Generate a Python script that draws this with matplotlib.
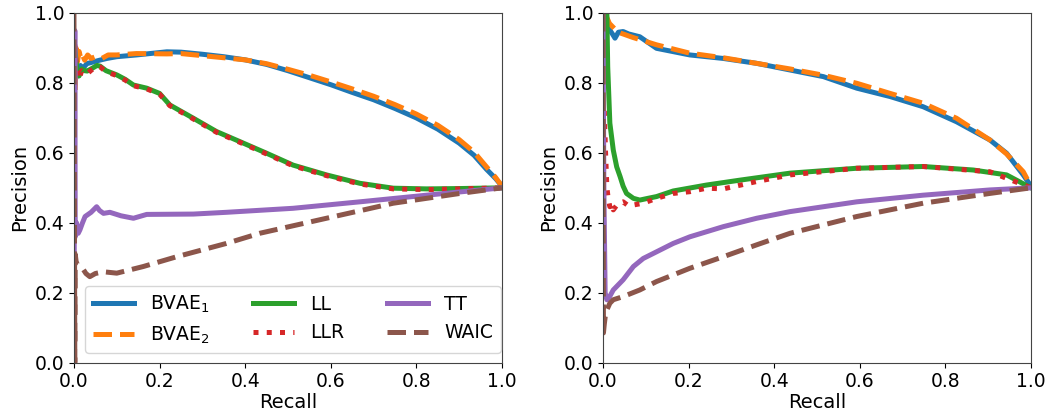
import matplotlib
matplotlib.use("Agg")
import matplotlib.pyplot as plt

# ---------------- Left panel data ----------------
L_bvae1_x = [0.003, 0.006, 0.010, 0.015, 0.020, 0.030, 0.045, 0.060, 0.077, 0.10, 0.146, 0.217, 0.25, 0.30, 0.35, 0.40, 0.45, 0.50, 0.55, 0.60, 0.65, 0.70, 0.75, 0.80, 0.85, 0.90, 0.935, 0.964, 0.985, 1.0]
L_bvae1_y = [0.80, 0.84, 0.82, 0.85, 0.84, 0.855, 0.86, 0.865, 0.87, 0.875, 0.88, 0.889, 0.888, 0.882, 0.875, 0.866, 0.853, 0.835, 0.815, 0.795, 0.773, 0.752, 0.727, 0.70, 0.668, 0.628, 0.593, 0.553, 0.527, 0.505]
L_bvae2_x = [0.003, 0.005, 0.008, 0.012, 0.016, 0.020, 0.025, 0.032, 0.040, 0.050, 0.065, 0.08, 0.10, 0.146, 0.217, 0.25, 0.30, 0.35, 0.40, 0.45, 0.50, 0.55, 0.60, 0.65, 0.70, 0.75, 0.80, 0.85, 0.90, 0.935, 0.964, 0.985, 1.0]
L_bvae2_y = [0.78, 0.90, 0.86, 0.89, 0.87, 0.88, 0.865, 0.88, 0.87, 0.875, 0.87, 0.88, 0.88, 0.884, 0.883, 0.884, 0.878, 0.872, 0.866, 0.855, 0.839, 0.822, 0.803, 0.783, 0.762, 0.738, 0.711, 0.679, 0.638, 0.602, 0.560, 0.530, 0.505]
L_ll_x = [0.002, 0.005, 0.008, 0.012, 0.018, 0.025, 0.031, 0.040, 0.054, 0.061, 0.075, 0.10, 0.12, 0.139, 0.170, 0.20, 0.224, 0.279, 0.333, 0.388, 0.450, 0.512, 0.590, 0.668, 0.746, 0.824, 0.902, 1.0]
L_ll_y = [0.90, 0.86, 0.83, 0.82, 0.84, 0.835, 0.834, 0.84, 0.85, 0.848, 0.835, 0.823, 0.81, 0.794, 0.785, 0.77, 0.737, 0.699, 0.661, 0.632, 0.599, 0.565, 0.537, 0.513, 0.499, 0.497, 0.498, 0.50]
L_llr_x = [0.002, 0.005, 0.008, 0.012, 0.018, 0.025, 0.031, 0.040, 0.054, 0.061, 0.075, 0.10, 0.12, 0.139, 0.170, 0.20, 0.224, 0.279, 0.333, 0.388, 0.450, 0.512, 0.590, 0.668, 0.746, 0.824, 0.902, 1.0]
L_llr_y = [0.91, 0.85, 0.82, 0.81, 0.835, 0.83, 0.826, 0.836, 0.848, 0.846, 0.832, 0.821, 0.808, 0.792, 0.783, 0.768, 0.735, 0.697, 0.659, 0.630, 0.597, 0.563, 0.535, 0.511, 0.497, 0.495, 0.497, 0.50]
L_tt_x = [0.0, 0.002, 0.003, 0.006, 0.010, 0.014, 0.020, 0.026, 0.040, 0.053, 0.060, 0.069, 0.084, 0.11, 0.139, 0.170, 0.279, 0.356, 0.512, 0.668, 0.824, 1.0]
L_tt_y = [0.0, 0.95, 0.36, 0.40, 0.37, 0.38, 0.40, 0.418, 0.43, 0.446, 0.435, 0.427, 0.43, 0.42, 0.413, 0.424, 0.425, 0.43, 0.4415, 0.46, 0.479, 0.50]
L_waic_x = [0.0, 0.002, 0.003, 0.005, 0.008, 0.014, 0.020, 0.028, 0.037, 0.050, 0.069, 0.10, 0.162, 0.24, 0.356, 0.434, 0.59, 0.746, 0.902, 1.0]
L_waic_y = [1.0, 0.0, 0.31, 0.29, 0.28, 0.275, 0.27, 0.255, 0.246, 0.255, 0.26, 0.256, 0.275, 0.303, 0.341, 0.37, 0.413, 0.456, 0.484, 0.50]

# ---------------- Right panel data ----------------
R_bvae1_x = [0.003, 0.005, 0.010, 0.016, 0.022, 0.028, 0.036, 0.047, 0.060, 0.086, 0.125, 0.203, 0.281, 0.359, 0.437, 0.515, 0.593, 0.671, 0.748, 0.826, 0.904, 0.943, 0.982, 1.0]
R_bvae1_y = [1.0, 0.994, 0.96, 0.951, 0.94, 0.928, 0.945, 0.947, 0.94, 0.932, 0.899, 0.880, 0.870, 0.856, 0.837, 0.818, 0.785, 0.761, 0.732, 0.689, 0.637, 0.599, 0.537, 0.505]
R_bvae2_x = [0.003, 0.008, 0.015, 0.023, 0.035, 0.047, 0.070, 0.125, 0.203, 0.281, 0.359, 0.437, 0.515, 0.593, 0.671, 0.748, 0.826, 0.904, 0.943, 0.982, 1.0]
R_bvae2_y = [1.0, 0.99, 0.97, 0.96, 0.945, 0.94, 0.93, 0.909, 0.885, 0.872, 0.856, 0.840, 0.822, 0.799, 0.770, 0.742, 0.699, 0.637, 0.597, 0.546, 0.505]
R_ll_x = [0.003, 0.009, 0.011, 0.016, 0.024, 0.032, 0.040, 0.047, 0.055, 0.071, 0.086, 0.105, 0.125, 0.164, 0.242, 0.320, 0.437, 0.593, 0.748, 0.865, 0.943, 1.0]
R_ll_y = [1.0, 0.999, 0.846, 0.685, 0.608, 0.56, 0.532, 0.505, 0.484, 0.470, 0.465, 0.47, 0.475, 0.491, 0.508, 0.522, 0.542, 0.556, 0.561, 0.551, 0.537, 0.50]
R_llr_x = [0.003, 0.006, 0.009, 0.012, 0.016, 0.020, 0.024, 0.035, 0.047, 0.060, 0.071, 0.094, 0.125, 0.164, 0.203, 0.242, 0.281, 0.359, 0.437, 0.593, 0.748, 0.904, 1.0]
R_llr_y = [0.72, 0.60, 0.503, 0.47, 0.446, 0.455, 0.437, 0.455, 0.46, 0.448, 0.451, 0.456, 0.470, 0.484, 0.489, 0.499, 0.497, 0.518, 0.537, 0.556, 0.561, 0.546, 0.50]
R_tt_x = [0.0, 0.002, 0.005, 0.009, 0.016, 0.024, 0.047, 0.071, 0.094, 0.125, 0.164, 0.203, 0.281, 0.359, 0.437, 0.593, 0.748, 0.904, 1.0]
R_tt_y = [1.0, 0.50, 0.20, 0.18, 0.19, 0.208, 0.237, 0.275, 0.298, 0.317, 0.341, 0.360, 0.389, 0.413, 0.432, 0.460, 0.479, 0.494, 0.50]
R_waic_x = [0.0, 0.001, 0.003, 0.006, 0.009, 0.016, 0.024, 0.047, 0.086, 0.125, 0.203, 0.281, 0.359, 0.437, 0.593, 0.748, 0.904, 1.0]
R_waic_y = [1.0, 0.085, 0.11, 0.14, 0.151, 0.17, 0.18, 0.189, 0.208, 0.232, 0.270, 0.303, 0.337, 0.370, 0.418, 0.456, 0.484, 0.50]

ticks = [0.0, 0.2, 0.4, 0.6, 0.8, 1.0]
tick_labels = ["0.0", "0.2", "0.4", "0.6", "0.8", "1.0"]

colors = {"blue": "#1f77b4", "orange": "#ff7f0e", "green": "#2ca02c",
          "red": "#d62728", "purple": "#9467bd", "brown": "#8c564b"}
lw = 3.6

fig = plt.figure(figsize=(10.52, 4.19), dpi=100)
axL = fig.add_axes([0.0703, 0.1344, 0.4068, 0.8346])
axR = fig.add_axes([0.5732, 0.1344, 0.4068, 0.8346])

def draw(ax, d, legend=False):
    ax.plot(d[0][0], d[0][1], color=colors["blue"], lw=lw, ls="-", label="BVAE$_1$")
    ax.plot(d[1][0], d[1][1], color=colors["orange"], lw=lw, ls="--", label="BVAE$_2$")
    ax.plot(d[2][0], d[2][1], color=colors["green"], lw=lw, ls="-", label="LL")
    ax.plot(d[3][0], d[3][1], color=colors["red"], lw=lw, ls=":", label="LLR")
    ax.plot(d[4][0], d[4][1], color=colors["purple"], lw=lw, ls="-", label="TT")
    ax.plot(d[5][0], d[5][1], color=colors["brown"], lw=lw, ls="--", label="WAIC")
    ax.set_xlim(0, 1)
    ax.set_ylim(0, 1)
    ax.set_xticks(ticks)
    ax.set_xticklabels(tick_labels)
    ax.set_yticks(ticks)
    ax.set_yticklabels(tick_labels)
    ax.tick_params(labelsize=13.5)
    ax.set_xlabel("Recall", fontsize=14, labelpad=1)
    ax.set_ylabel("Precision", fontsize=14, labelpad=4)
    for s in ax.spines.values():
        s.set_color("#444444")
    if legend:
        ax.legend(ncol=3, loc="lower right", fontsize=13.5,
                  bbox_to_anchor=(0.997, 0.027),
                  handlelength=2.2, handletextpad=0.85, borderaxespad=0.0,
                  columnspacing=2.3)

draw(axL, [(L_bvae1_x, L_bvae1_y), (L_bvae2_x, L_bvae2_y), (L_ll_x, L_ll_y),
           (L_llr_x, L_llr_y), (L_tt_x, L_tt_y), (L_waic_x, L_waic_y)], legend=True)
draw(axR, [(R_bvae1_x, R_bvae1_y), (R_bvae2_x, R_bvae2_y), (R_ll_x, R_ll_y),
           (R_llr_x, R_llr_y), (R_tt_x, R_tt_y), (R_waic_x, R_waic_y)])

fig.savefig("out.png", dpi=100)
